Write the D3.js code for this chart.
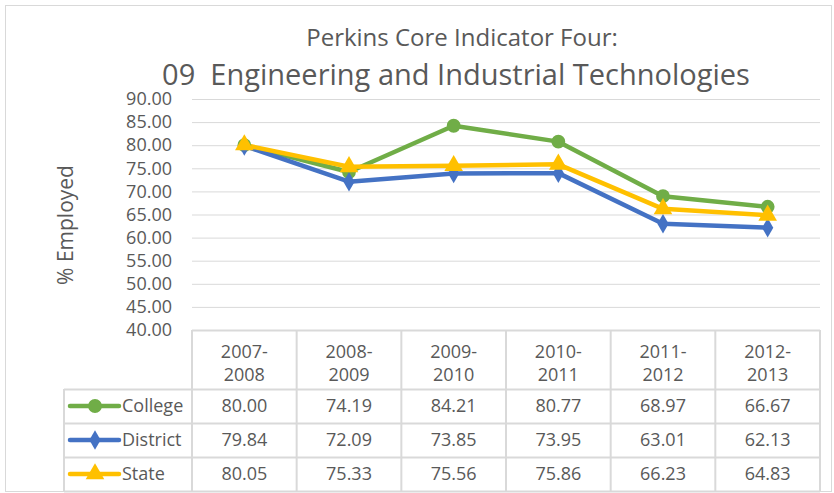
<!DOCTYPE html>
<html>
<head>
<meta charset="utf-8">
<script src="https://cdn.jsdelivr.net/npm/d3@7"></script>
<style>
  body { margin: 0; background: #fff; }
  text { font-family: "Open Sans", "Noto Sans", sans-serif; fill: #595959; }
</style>
</head>
<body>
<div id="chart"></div>
<script>
// data
let years = ["2007-2008", "2008-2009", "2009-2010", "2010-2011", "2011-2012", "2012-2013"];
let college = [80.00, 74.19, 84.21, 80.77, 68.97, 66.67];
let district = [79.84, 72.09, 73.85, 73.95, 63.01, 62.13];
let state = [80.05, 75.33, 75.56, 75.86, 66.23, 64.83];
let seriesNames = ["College", "District", "State"];
let yTicks = [40, 45, 50, 55, 60, 65, 70, 75, 80, 85, 90];

let svgWidth = 834;
let svgHeight = 493;

let series = [
  { name: seriesNames[0], values: college, color: "#70AD47", marker: d3.symbolCircle, size: 150 },
  { name: seriesNames[1], values: district, color: "#4472C4", marker: d3.symbolDiamond, size: 110 },
  { name: seriesNames[2], values: state, color: "#FFC000", marker: d3.symbolTriangle, size: 150 }
];

let svg = d3.select("#chart")
  .append("svg")
  .attr("width", svgWidth)
  .attr("height", svgHeight);

// chart area border
svg.append("rect")
  .attr("x", 5.5).attr("y", 5.5)
  .attr("width", 826).attr("height", 486)
  .attr("fill", "none")
  .attr("stroke", "#D9D9D9");

// titles
svg.append("text")
  .attr("x", 462).attr("y", 46)
  .attr("text-anchor", "middle")
  .style("font-size", "24px")
  .text("Perkins Core Indicator Four:");

svg.append("text")
  .attr("x", 456).attr("y", 85)
  .attr("text-anchor", "middle")
  .style("font-size", "29px")
  .attr("xml:space", "preserve")
  .text("09  Engineering and Industrial Technologies");

// scales
let xScale = d3.scaleBand()
  .domain(years)
  .range([192, 820]);

let yScale = d3.scaleLinear()
  .domain([40, 90])
  .range([330, 99]);

// gridlines
svg.append("g")
  .selectAll("line")
  .data(yTicks.slice(1))
  .enter()
  .append("line")
  .attr("x1", 192).attr("x2", 820)
  .attr("y1", d => yScale(d) + 0.5)
  .attr("y2", d => yScale(d) + 0.5)
  .attr("stroke", "#D9D9D9")
  .attr("stroke-width", 1);

// y axis labels
let leftAxis = d3.axisLeft(yScale)
  .tickValues(yTicks)
  .tickFormat(d3.format(".2f"))
  .tickSize(0)
  .tickPadding(0);

let yAxis = svg.append("g")
  .attr("transform", "translate(172, 0)")
  .call(leftAxis);
yAxis.select(".domain").remove();
yAxis.selectAll("text")
  .style("font-size", "18px")
  .style("font-family", "'Open Sans', sans-serif")
  .attr("fill", "#595959");

svg.append("text")
  .attr("transform", "translate(73, 225) rotate(-90)")
  .attr("text-anchor", "middle")
  .style("font-size", "21px")
  .text("% Employed");

// lines and markers
let cx = d => xScale(d) + xScale.bandwidth() / 2;
let line = d3.line()
  .x((d, i) => cx(years[i]))
  .y(d => yScale(d));

series.forEach(s => {
  svg.append("path")
    .datum(s.values)
    .attr("d", line)
    .attr("fill", "none")
    .attr("stroke", s.color)
    .attr("stroke-width", 4.5)
    .attr("stroke-linejoin", "round");
});
series.forEach(s => {
  svg.append("g")
    .selectAll("path")
    .data(s.values)
    .enter()
    .append("path")
    .attr("d", d3.symbol().type(s.marker).size(s.size))
    .attr("transform", (d, i) => `translate(${cx(years[i])}, ${yScale(d)})`)
    .attr("fill", s.color);
});

// data table
let tableTop = 330;
let headerBottom = 389;
let rowH = 34;
let legendLeft = 64;
let grid = "#D9D9D9";

let table = svg.append("g");

// header row border
table.append("line").attr("x1", 192).attr("x2", 820).attr("y1", tableTop + 0.5).attr("y2", tableTop + 0.5).attr("stroke", grid).attr("stroke-width", 2);
// row borders
d3.range(4).forEach(i => {
  let y = headerBottom + i * rowH + 0.5;
  table.append("line").attr("x1", legendLeft).attr("x2", 820).attr("y1", y).attr("y2", y).attr("stroke", grid).attr("stroke-width", 2);
});
// vertical borders
table.append("line").attr("x1", legendLeft).attr("x2", legendLeft).attr("y1", headerBottom).attr("y2", headerBottom + 3 * rowH).attr("stroke", grid).attr("stroke-width", 2);
years.concat(["end"]).forEach((yr, i) => {
  let x = i < years.length ? xScale(yr) : xScale.range()[1];
  table.append("line").attr("x1", x).attr("x2", x).attr("y1", tableTop).attr("y2", headerBottom + 3 * rowH).attr("stroke", grid).attr("stroke-width", 2);
});

// header labels
years.forEach(yr => {
  let parts = yr.split("-");
  let t = table.append("text")
    .attr("x", cx(yr))
    .attr("text-anchor", "middle")
    .style("font-size", "18px");
  t.append("tspan").attr("x", cx(yr)).attr("y", 358).text(parts[0] + "-");
  t.append("tspan").attr("x", cx(yr)).attr("y", 381).text(parts[1]);
});

// rows
series.forEach((s, r) => {
  let yMid = headerBottom + r * rowH + rowH / 2;
  table.append("line")
    .attr("x1", 70).attr("x2", 119)
    .attr("y1", yMid).attr("y2", yMid)
    .attr("stroke", s.color)
    .attr("stroke-width", 4.5)
    .attr("stroke-linecap", "round");
  table.append("path")
    .attr("d", d3.symbol().type(s.marker).size(s.size))
    .attr("transform", `translate(95, ${yMid})`)
    .attr("fill", s.color);
  table.append("text")
    .attr("x", 122).attr("y", yMid)
    .attr("dy", "0.35em")
    .style("font-size", "18px")
    .text(s.name);
  s.values.forEach((v, i) => {
    table.append("text")
      .attr("x", cx(years[i])).attr("y", yMid)
      .attr("dy", "0.35em")
      .attr("text-anchor", "middle")
      .style("font-size", "18px")
      .text(v.toFixed(2));
  });
});
</script>
</body>
</html>
